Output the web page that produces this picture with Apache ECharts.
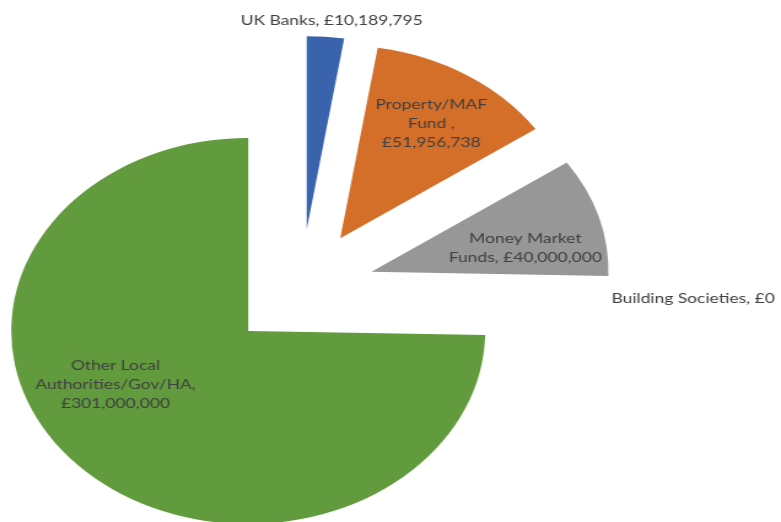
<!DOCTYPE html>
<html><head><meta charset="utf-8">
<script src="https://cdn.jsdelivr.net/npm/echarts@6/dist/echarts.min.js"></script>
<style>
html,body{margin:0;padding:0;background:#fff;overflow:hidden}
#main{width:636px;height:522px;transform:scaleX(1.228);transform-origin:0 0}
</style></head><body><div id="main"></div>
<script>
// ---- data ----
const categories = ['UK Banks', 'Property/MAF Fund ', 'Money Market Funds', 'Building Societies', 'Other Local Authorities/Gov/HA'];
const values = [10189795, 51956738, 40000000, 0, 301000000];
const colors = ['#3A63AE', '#D46F2A', '#979797', '#FFC000', '#629B3D'];

const fmt = v => '£' + String(v).replace(/\B(?=(\d{3})+(?!\d))/g, ',');
function labelText(i) {
  const v = fmt(values[i]);
  switch (i) {
    case 1: return 'Property/MAF\nFund ,\n' + v;
    case 2: return 'Money Market\nFunds, ' + v;
    case 4: return 'Other Local\nAuthorities/Gov/HA,\n' + v;
    default: return categories[i] + ', ' + v;
  }
}
const insideIdx = [1, 2, 4];
// label nudges (style, not data)
const labelNudge = {0: [0, -16], 1: [21, -31], 2: [30, 5], 3: [-5, 4], 4: [-37, -16]};

const chart = echarts.init(document.getElementById('main'), null, {renderer: 'canvas'});
chart.setOption({
  animation: false,
  backgroundColor: '#fff',
  series: [{
    type: 'pie',
    center: [245, 289],
    radius: 193,
    startAngle: 90,
    clockwise: true,
    selectedMode: 'multiple',
    selectedOffset: 60,
    avoidLabelOverlap: false,
    minShowLabelAngle: 0,
    label: {
      color: '#404040',
      fontFamily: 'Lato, "Open Sans", sans-serif',
      fontSize: 14.2,
      lineHeight: 19,
      align: 'center'
    },
    labelLine: {show: false, length: 0, length2: 0},
    labelLayout: function (p) {
      const n = labelNudge[p.dataIndex];
      const r = {dx: n[0], dy: n[1]};
      if (p.dataIndex === 0) { r.align = 'center'; }
      return r;
    },
    emphasis: {disabled: true},
    data: categories.map((c, i) => ({
      name: c,
      value: values[i],
      selected: true,
      itemStyle: {color: colors[i]},
      label: {position: insideIdx.includes(i) ? 'inside' : 'outside', formatter: labelText(i)}
    }))
  }]
});
</script></body></html>
